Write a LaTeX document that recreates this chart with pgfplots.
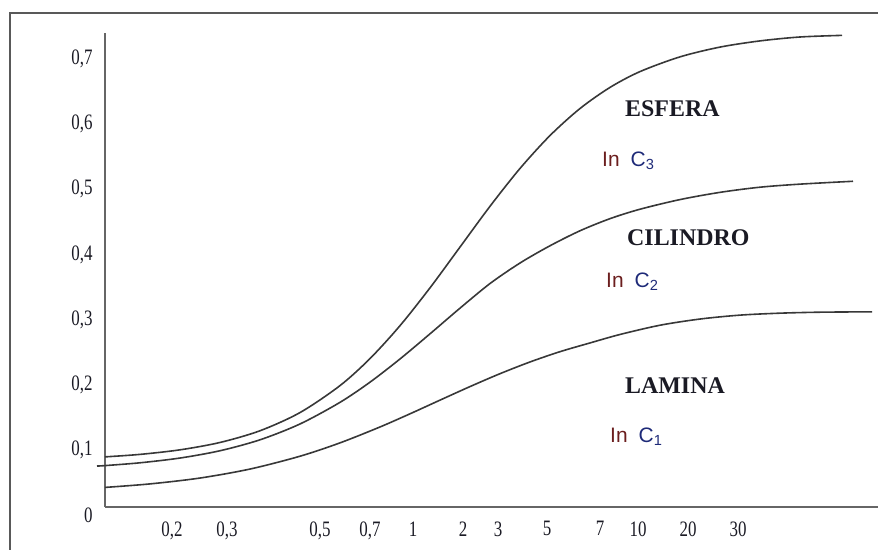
\documentclass[border=0pt]{standalone}
\usepackage{pgfplots}
\pgfplotsset{compat=1.18}
\usepackage{fontspec}
\setmainfont{Liberation Serif}
\newfontfamily\sans{Liberation Sans}
\definecolor{lnred}{HTML}{6B1E1E}
\definecolor{cblue}{HTML}{1E2A78}
\definecolor{ink}{HTML}{1A1A24}

\newcommand{\lnc}[1]{{\sans\fontsize{21}{21}\selectfont\textcolor{lnred}{In}\hspace{11bp}\textcolor{cblue}{C\textsubscript{#1}}}}
\newcommand{\bodyname}[1]{\textbf{\fontsize{24}{24}\selectfont #1}}

\begin{document}
\begin{tikzpicture}
\begin{axis}[
    scale only axis,
    width=773bp, height=474bp,
    xmin=105, xmax=878,
    ymin=0, ymax=0.7277,
    axis lines=left,
    axis line style={-, line width=1.8bp, draw=black!60},
    clip=false,
    major tick length=0,
    xtick={172,227,320,370,413,463,498,547,600,638,688,738},
    xticklabels={{0,2},{0,3},{0,5},{0,7},1,2,3,5,7,10,20,30},
    ytick={0,0.1,0.2,0.3,0.4,0.5,0.6,0.7},
    /pgf/number format/assume math mode=true,
    /pgf/number format/use comma,
    /pgf/number format/fixed,
    /pgf/number format/precision=1,
    tick label style={font=\fontsize{17}{17}\selectfont, text=ink},
    xticklabel style={yshift=-10bp, yscale=1.3},
    yticklabel style={xshift=-9bp, yshift=-8bp, yscale=1.3},
]
% ESFERA
\addplot[smooth, line width=1.6bp, draw=black!78] coordinates {
    (105,0.0769) (140,0.0807) (180,0.0877) (220,0.0990) (260,0.1170)
    (300,0.1449) (340,0.1863) (370,0.2278) (400,0.2783) (430,0.3364)
    (460,0.3990) (490,0.4616) (520,0.5197) (550,0.5702) (580,0.6117)
    (610,0.6441) (640,0.6684) (680,0.6910) (720,0.7060) (760,0.7155)
    (800,0.7215) (842,0.7240)
};
% CILINDRO
\addplot[smooth, line width=1.6bp, draw=black!78] coordinates {
    (97,0.0628) (105,0.0635) (140,0.0678) (180,0.0751) (220,0.0863)
    (260,0.1031) (300,0.1274) (340,0.1606) (370,0.1916) (400,0.2272)
    (430,0.2658) (460,0.3052) (490,0.3430) (520,0.3745) (550,0.4010)
    (580,0.4240) (610,0.4426) (640,0.4571) (680,0.4719) (720,0.4830)
    (760,0.4909) (800,0.4956) (853,0.5000)
};
% LAMINA
\addplot[smooth, line width=1.6bp, draw=black!78] coordinates {
    (105,0.0300) (150,0.0354) (200,0.0444) (250,0.0582) (300,0.0779)
    (340,0.0984) (380,0.1228) (410,0.1430) (440,0.1640) (470,0.1848)
    (500,0.2046) (530,0.2226) (560,0.2384) (590,0.2518) (620,0.2648)
    (660,0.2790) (700,0.2885) (740,0.2945) (780,0.2975) (820,0.2990)
    (872,0.2996)
};

\node[anchor=west, inner sep=0, text=ink] at (axis cs:625,0.611) {\bodyname{ESFERA}};
\node[anchor=west, inner sep=0, text=ink] at (axis cs:627,0.413) {\bodyname{CILINDRO}};
\node[anchor=west, inner sep=0, text=ink] at (axis cs:625,0.1858) {\bodyname{LAMINA}};
\node[anchor=west, inner sep=0] at (axis cs:602,0.531) {\lnc{3}};
\node[anchor=west, inner sep=0] at (axis cs:606,0.3454) {\lnc{2}};
\node[anchor=west, inner sep=0] at (axis cs:610,0.1075) {\lnc{1}};

\draw[line width=1.8bp, draw=black!65] (axis cs:10,-0.1) -- (axis cs:10,0.7584) -- (axis cs:900,0.7584);
\coordinate (bl) at (axis cs:0,-0.0660);
\coordinate (tr) at (axis cs:878,0.7783);
\end{axis}
\pgfresetboundingbox
\useasboundingbox (bl) rectangle (tr);
\end{tikzpicture}
\end{document}
